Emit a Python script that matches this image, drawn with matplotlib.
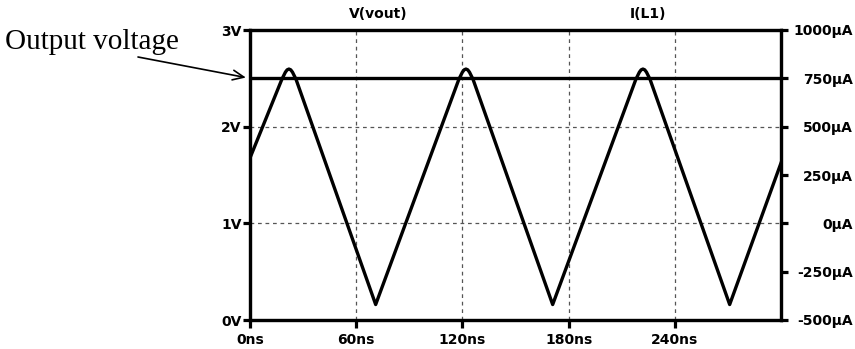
"""LTspice-style plot of inductor current ripple against the output voltage."""

import matplotlib

matplotlib.use("Agg")
import matplotlib.pyplot as plt

# trace data
time_ns = [0, 18, 20, 21, 22, 23, 24, 26, 71,
           118, 120, 121, 122, 123, 124, 126, 171,
           218, 220, 221, 222, 223, 224, 226, 271, 300]
i_l1_uA = [338, 745, 782, 794, 798, 794, 782, 745, -420,
           745, 782, 794, 798, 794, 782, 745, -420,
           745, 782, 794, 798, 794, 782, 745, -420, 312]
vout_time_ns = [0, 300]
vout_V = [2.5, 2.5]

x_ticks = [0, 60, 120, 180, 240]
x_labels = ["0ns", "60ns", "120ns", "180ns", "240ns"]
v_ticks = [0, 1, 2, 3]
v_labels = ["0V", "1V", "2V", "3V"]
i_ticks = [-500, -250, 0, 250, 500, 750, 1000]
i_labels = ["-500µA", "-250µA", "0µA", "250µA", "500µA", "750µA", "1000µA"]

W, H = 855, 349
fig = plt.figure(figsize=(W / 100, H / 100), dpi=100)
ax = fig.add_axes([250 / W, 1 - 320 / H, 531 / W, 290 / H])
ax2 = ax.twinx()

tick_font = dict(family="DejaVu Sans", weight="bold", size=10)

ax.plot(vout_time_ns, vout_V, color="black", lw=2.4, solid_capstyle="butt")
ax2.plot(time_ns, i_l1_uA, color="black", lw=2.4, solid_joinstyle="round")

ax.set_xlim(0, 300)
ax.set_ylim(0, 3)
ax2.set_ylim(-500, 1000)

ax.set_xticks(x_ticks)
ax.set_xticklabels(x_labels, fontdict=tick_font)
ax.set_yticks(v_ticks)
ax.set_yticklabels(v_labels, fontdict=tick_font)
ax2.set_yticks(i_ticks)
ax2.set_yticklabels(i_labels, fontdict=tick_font, ha="right")

for a in (ax, ax2):
    for s in a.spines.values():
        s.set_linewidth(2.3)
    a.tick_params(length=5, width=2.3, pad=1, colors="black")
ax.tick_params(axis="x", length=6, pad=3)
# right labels are right-aligned against the image edge
ax2.tick_params(axis="y", pad=(853 - 781 - 7) * 0.72)

# dashed grid only at interior ticks
for x in x_ticks[1:]:
    ax.axvline(x, color="#555555", lw=0.9, ls=(0, (3, 3)), zorder=0)
for v in v_ticks[1:-1]:
    ax.axhline(v, color="#555555", lw=0.9, ls=(0, (3, 3)), zorder=0)

fig.text(378 / W, 1 - 14 / H, "V(vout)", ha="center", va="center", **tick_font)
fig.text(648 / W, 1 - 14 / H, "I(L1)", ha="center", va="center", **tick_font)

ax.annotate(
    "",
    xy=(0, 2.5),
    xycoords="data",
    xytext=(138, H - 57),
    textcoords="figure pixels",
    arrowprops=dict(arrowstyle="->,head_length=0.8,head_width=0.35",
                    color="black", lw=1.2, shrinkA=0, shrinkB=3),
    annotation_clip=False,
)
fig.text(5 / W, 1 - 49 / H, "Output voltage", family="Liberation Serif",
         size=21, ha="left", va="baseline")

fig.savefig("out.png", dpi=100)
